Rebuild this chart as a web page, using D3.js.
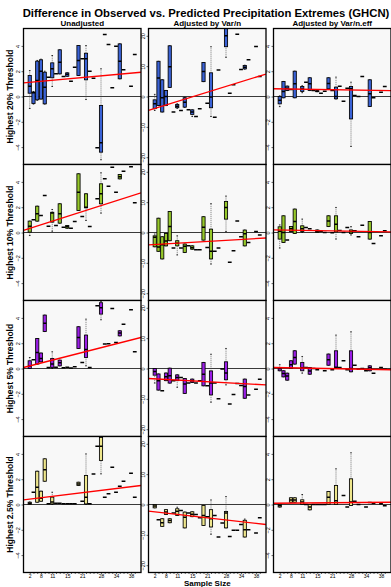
<!DOCTYPE html>
<html>
<head>
<meta charset="utf-8">
<script src="https://cdn.jsdelivr.net/npm/d3@7"></script>
<style>
body{margin:0;background:#fff;}
svg{display:block;font-family:"Liberation Sans",Arial,Helvetica,sans-serif;}
</style>
</head>
<body>
<svg id="chart" width="391" height="587"></svg>
<script>
// --------------------------------
// data
// --------------------------------

// categories: sample size of the station groups
var sampleSize = [2,4,6,8,9,10,11,12,13,14,15,16,18,20,21,22,24,25,26,28,30,31,32,34,35,36,37,38,40];
// only these are printed on the x axis (R drops overlapping labels)
var xLabels = [2,8,11,15,21,28,34,38];

var colNames = ["Unadjusted","Adjusted by Var/n","Adjusted by Var/n.eff"];
var rowNames = ["Highest 20% Threshold","Highest 10% Threshold","Highest 5% Threshold","Highest 2.5% Threshold"];
var rowColors = ["#3a62d6","#96c82a","#9a1ee6","#eee68c"];

var yTicksRaw = [-4,-2,0,2,4];
var yTicksVar = [-20,-10,0,10,20];

// one entry per sample size: [min, q1, median, q3, max], a single value, or null
var unadj20 = [[-0.95,0.26,0.82,1.66,2.05],[-0.6,-0.55,0.3,0.35,0.4],[-0.3,-0.26,1.26,2.79,2.85],[-0.2,-0.2,2.0,2.9,2.95],
  [-0.6,-0.58,0.74,1.92,2.0],1.53,[0.79,1.48,2.19,2.66,3.24],1.79,[1.79,1.79,2.71,3.69,3.69],1.58,[1.6,1.6,1.75,1.87,1.87],
  1.21,2.32,[1.66,1.66,2.85,4.03,4.03],2.98,[-0.24,1.32,2.98,3.42,4.03],2.0,1.45,-4.06,[-5.0,-4.4,-3.66,-0.71,2.19],
  4.9,4.11,0.69,3.98,[1.4,1.4,2.79,4.16,4.16],2.11,null,0.82,3.32];
var varn20 = [[-4.6,-4.0,-2.4,-1.1,0.7],[-3,-2.95,6.1,11.6,11.6],[-5.1,-5.1,-0.4,5.5,5.5],[-3,-2.95,0,2,2],
  [3,3,9.8,16.7,16.7],-5.1,[-3.9,-3.7,-3.2,-2.6,-2.4],-4.6,[-3.6,-3.5,-1.9,-0.4,-0.3],-4.4,[-6.6,-5.9,-5.1,-4.4,-4.4],
  -6.6,-4.0,[4.9,4.9,8.2,11.2,11.2],-2.2,[-6.6,-3.7,-0.2,7.8,16.4],-6.8,8.7,null,[12.9,16.4,20,23,26],
  1.1,3.9,20.5,8.9,[9.0,9.1,9.6,10.2,10.3],12.1,null,16.5,6.6];
var neff20 = [[-0.8,-0.58,-0.3,0,0.05],[-0.1,-0.1,0.4,1.19,1.19],[0.47,0.47,0.65,0.82,0.82],0.55,
  [-0.1,-0.1,1.0,2.0,2.0],null,[0.3,0.4,0.6,0.79,0.85],1.13,[0.47,0.47,1.0,1.48,1.48],0.47,[0.38,0.38,0.42,0.46,0.46],
  0.26,0.42,[0.61,0.61,1.03,1.48,1.48],0.47,[-0.2,-0.18,0,0.74,1.53],0.82,-0.37,0.66,[-3.95,-1.77,0.61,0.79,1.13],
  0.08,0.0,1.58,null,[-0.79,-0.79,0.21,1.32,1.32],-0.1,null,0.34,0.79];

var unadj10 = [[-0.24,0.03,0.5,0.9,0.9],1.0,[0.9,0.9,1.48,2.08,2.08],1.34,
  2.92,0.5,[0.1,0.82,1.55,1.6,1.82],0.55,[0.74,0.74,1.48,2.27,2.27],0.42,[0.34,0.34,0.45,0.55,0.55],
  0.34,0.87,[1.74,1.74,3.19,4.64,4.64],1.26,[0.95,1.95,2.0,3.06,3.06],0.47,null,2.66,[1.53,2.27,3.06,3.85,4.72],
  4.24,3.66,5.16,3.19,[4.24,4.24,4.4,4.58,4.58],4.85,null,5.2,2.35];
var varn10 = [[-4.7,-4.7,-1.6,-1.1,-0.5],[-6.2,-6.2,-4.8,4.7,4.7],[-8.7,-8.7,-4,-1.4,-1.4],[-4.4,-4.4,-2.8,-0.3,-0.3],
  [-2.7,-2.7,2.0,6.9,6.9],-5.1,[-7.4,-4.4,-3.5,-2.7,-1.1],-5.1,[-6.6,-6.6,-4.5,-3.8,-3.8],-4.4,[-5.5,-5.5,-5,-4.4,-4.4],
  -5.7,-5.7,[-2.5,-2.5,1.7,5.2,5.2],-4.9,[-10.4,-8.7,-6.2,1.1,9.5],-6.2,-5.1,null,[0.3,4.4,8.2,10.2,12.0],
  -9.8,-6.0,3.8,-1.4,[-4.4,-4.4,-0.4,0.8,0.8],-3.3,null,0.3,-0.8];
var neff10 = [[-1.23,-0.52,0.1,0.45,0.6],[-0.79,-0.79,0,1.32,1.32],-0.6,[0.08,0.08,0.3,0.47,0.47],
  [-0.08,-0.08,0.87,1.85,1.85],null,[0.0,0.08,0.3,0.53,1.06],0.4,0.3,null,[0.0,0.0,0.1,0.2,0.2],
  0.1,0.0,[0.47,0.47,0.9,1.32,1.32],-0.02,[-0.52,0.05,0.65,1.32,1.98],0.15,0.0,0.4,[-0.2,-0.08,0.05,0.2,0.47],
  0.13,-0.34,0.58,null,[-0.52,-0.52,0,0.87,0.87],-0.87,null,-0.26,0.13];

var unadj5 = [[0,0,0.2,0.61,0.87],0.69,[0.35,0.35,1.26,2.37,2.37],[0.53,0.53,0.8,1.22,1.22],
  [2.92,2.92,3.58,4.22,4.22],0.08,[0.0,0.08,0.35,0.79,1.32],0.1,[0.21,0.21,0.45,0.66,0.66],0.05,0.1,
  0.03,0.13,[1.58,1.58,2.45,3.3,3.3],0.47,[0.21,0.87,1.5,2.64,3.9],0.08,null,4.96,[3.85,4.3,4.8,5.2,5.3],
  1.93,1.95,4.74,2.05,[2.58,2.58,2.8,2.98,2.98],3.5,null,4.64,1.32];
var varn5 = [[-4.8,-2.2,-1.0,0,0],[-7.1,-7.1,-4,-1.8,-1.8],-7.3,[-4.0,-4.0,-2.7,-1.5,-1.5],
  [-4.8,-4.8,-2.4,0.1,0.1],-4,[-6.2,-4,-3,-2.1,-2.1],-3,[-8.2,-8.2,-5.1,-3.3,-3.3],-4.8,[-4.6,-4.6,-4,-3.5,-3.5],
  -4.8,-4.0,[-5.7,-5.7,-1.9,2.0,2.0],-5.7,[-11.1,-8.7,-4.8,-0.8,4.7],-4.8,-10,-0.2,[-5.4,-3.7,-1.5,2.2,6.6],
  -11.7,-8.6,-4.9,-5.6,[-9.8,-9.8,-5.9,-3.5,-3.5],-8.7,null,-6.8,-3.5];
var neff5 = [[-0.18,-0.18,0,0.08,0.3],[-0.66,-0.66,-0.4,-0.18,-0.18],[-0.92,-0.92,-0.6,-0.37,-0.37],[0,0,0.3,0.61,0.61],
  [0.35,0.35,0.87,1.4,1.4],null,[-0.37,-0.18,0.05,0.47,0.95],0.08,[-0.45,-0.45,-0.2,0.08,0.08],0,-0.1,
  null,-0.18,[0.26,0.26,0.7,1.14,1.14],-0.1,[0.0,0.08,0.1,1.4,2.64],0.08,0.61,-0.1,[-0.26,-0.26,0,1.4,2.9],
  0.26,-0.05,0,-0.18,[-0.18,-0.18,0.05,0.21,0.21],-0.37,null,0.08,-0.05];

var unadj25 = [[0,0,0.1,0.18,0.2],0.97,[0.18,0.18,1.37,2.63,2.63],[0.26,0.26,0.5,1.05,1.05],
  [1.84,1.84,2.74,3.61,3.61],0.05,[0,0.05,0.2,0.58,0.97],0.1,0.1,0.05,0.05,
  0.05,0.05,[1.5,1.5,1.63,1.76,1.76],0.26,[0,0.05,0.58,2.29,4.0],0.05,2.42,4.6,[2.42,3.48,4.6,5.3,5.4],
  0.58,0.84,2.95,0.97,1.45,1.84,null,2.47,0.58];
var varn25 = [[-1.1,-1.1,-0.5,0,0],-5.0,[-7.2,-7.2,-6,-4.7,-4.7],[-3.3,-3.3,-2.5,-1.7,-1.7],
  [-6.0,-6.0,-5.3,-4.7,-4.7],-2.8,[-3.6,-3.6,-2.2,-1.4,-0.9],-2.0,[-7.7,-7.7,-4.2,-2.5,-2.5],-2.8,[-4.0,-4.0,-3.2,-2.4,-2.4],
  -3.3,-4.4,[-6.9,-6.9,-3.6,-0.3,-0.3],-4.0,[-9.8,-7.4,-4.7,-1.7,1.5],-3.6,-10.7,-6.1,[-7.7,-7.7,-2.8,-2.3,2.6],
  -10.5,-8.5,-8.5,-6.6,[-10.7,-10.7,-8.3,-5.2,-4.8],-8.3,null,-9.4,-4.4];
var neff25 = [[-0.2,-0.2,-0.1,0,0],null,null,[0.18,0.18,0.35,0.53,0.53],
  [0.18,0.18,0.35,0.53,0.53],null,[0,0,0.2,0.37,0.79],0,[-0.42,-0.42,-0.2,0,0],0,0,
  0,0,[0,0,0.58,1.03,1.03],null,[0,0,0.3,1.5,2.82],null,0.71,-0.2,[-0.08,-0.08,0.2,2.03,4.09],
  0.26,0,null,-0.2,0.16,0.1,null,0.05,-0.1];

// red fitted line: value at the left and right panel edge, per column
var trend20 = [[1.08,1.92],[-4.6,7.4],[0.61,0.47]];
var trend10 = [[0.16,3.14],[-4.1,-1.8],[0.21,0.05]];
var trend5  = [[0.08,2.45],[-3.3,-5.4],[0.08,-0.1]];
var trend25 = [[0.37,1.5],[-2.2,-6.6],[0.1,0.18]];

var panels = [
	[unadj20,varn20,neff20],
	[unadj10,varn10,neff10],
	[unadj5,varn5,neff5],
	[unadj25,varn25,neff25]
];
var trends = [trend20,trend10,trend5,trend25];

// --------------------------------
// layout
// --------------------------------

var colLeft = [23.5,148.5,273.5], panelW = 117.5;
var rowTop = [28.5,164.5,300.5,436.5], panelH = 136;
var boxW = 3.2;

var svg = d3.select("#chart");
var nCat = sampleSize.length;

svg.append("text")
	.attr("x",206).attr("y",16.5)
	.attr("style","font-size:11.3px;font-weight:bold;text-anchor:middle;fill:#000")
	.text("Difference in Observed vs. Predicted Precipitation Extremes (GHCN)");

colNames.forEach(function(s,c){
	svg.append("text")
		.attr("x",colLeft[c]+panelW/2).attr("y",25.5)
		.attr("style","font-size:8px;font-weight:bold;text-anchor:middle;fill:#000")
		.text(s);
});

rowNames.forEach(function(s,r){
	svg.append("text")
		.attr("transform","translate(13,"+(rowTop[r]+panelH/2)+") rotate(-90)")
		.attr("style","font-size:8.5px;font-weight:bold;text-anchor:middle;fill:#000")
		.text(s);
});

svg.append("text")
	.attr("x",colLeft[1]+panelW/2).attr("y",586)
	.attr("style","font-size:8px;font-weight:bold;text-anchor:middle;fill:#000")
	.text("Sample Size");

var defs = svg.append("defs");

// --------------------------------
// one box plot panel
// --------------------------------

function drawPanel(r,c){
	var data = panels[r][c];
	var color = rowColors[r];
	var lim = (c==1)?22.4:5.375;

	var x = d3.scaleLinear().domain([-1.66,nCat-1+1.66]).range([colLeft[c],colLeft[c]+panelW]);
	var y = d3.scaleLinear().domain([-lim,lim]).range([rowTop[r]+panelH,rowTop[r]]);

	var clipId = "clip"+r+"_"+c;
	defs.append("clipPath").attr("id",clipId)
		.append("rect")
		.attr("x",colLeft[c]).attr("y",rowTop[r])
		.attr("width",panelW).attr("height",panelH);

	svg.append("rect")
		.attr("x",colLeft[c]).attr("y",rowTop[r])
		.attr("width",panelW).attr("height",panelH)
		.attr("style","fill:#f8f8f8;stroke:none");

	var g = svg.append("g").attr("clip-path","url(#"+clipId+")");

	// zero line
	g.append("line")
		.attr("x1",colLeft[c]).attr("x2",colLeft[c]+panelW)
		.attr("y1",y(0)).attr("y2",y(0))
		.attr("style","stroke:#222;stroke-width:0.9");

	var items = [];
	data.forEach(function(d,i){
		if (d === null) return;
		var s = (typeof d == "number")?[d,d,d,d,d]:d;
		items.push({i:i,s:s,single:(typeof d == "number")});
	});

	var box = g.selectAll("g.box").data(items).enter().append("g").attr("class","box");

	// whiskers
	box.filter(function(d){return !d.single;}).each(function(d){
		var b = d3.select(this), cx = x(d.i);
		if (d.s[0] < d.s[1]){
			b.append("line").attr("x1",cx).attr("x2",cx).attr("y1",y(d.s[0])).attr("y2",y(d.s[1]))
				.attr("style","stroke:#444;stroke-width:0.6;stroke-dasharray:1.2,0.8");
		}
		if (d.s[4] > d.s[3]){
			b.append("line").attr("x1",cx).attr("x2",cx).attr("y1",y(d.s[3])).attr("y2",y(d.s[4]))
				.attr("style","stroke:#444;stroke-width:0.6;stroke-dasharray:1.2,0.8");
		}
		[d.s[0],d.s[4]].forEach(function(v){
			b.append("line").attr("x1",cx-boxW/4).attr("x2",cx+boxW/4).attr("y1",y(v)).attr("y2",y(v))
				.attr("style","stroke:#000;stroke-width:0.8");
		});
		b.append("rect")
			.attr("x",cx-boxW/2).attr("width",boxW)
			.attr("y",y(d.s[3])).attr("height",Math.max(0.5,y(d.s[1])-y(d.s[3])))
			.attr("style","fill:"+color+";stroke:#000;stroke-width:0.85");
	});

	// medians (single values are just a median bar)
	box.append("line")
		.attr("x1",function(d){return x(d.i)-boxW/2-(d.single?0.3:0);})
		.attr("x2",function(d){return x(d.i)+boxW/2+(d.single?0.3:0);})
		.attr("y1",function(d){return y(d.s[2]);})
		.attr("y2",function(d){return y(d.s[2]);})
		.attr("style","stroke:#000;stroke-width:1.5");

	// fitted line
	var t = trends[r][c];
	g.append("line")
		.attr("x1",colLeft[c]).attr("x2",colLeft[c]+panelW)
		.attr("y1",y(t[0])).attr("y2",y(t[1]))
		.attr("style","stroke:#ff0000;stroke-width:1.35");

	// y axis
	var ya = svg.append("g")
		.attr("transform","translate("+colLeft[c]+",0)")
		.call(d3.axisLeft(y).tickValues(c==1?yTicksVar:yTicksRaw).tickSize(2).tickSizeOuter(0));
	ya.select(".domain").remove();
	ya.selectAll(".tick line").attr("stroke","#000").attr("stroke-width",0.6);
	ya.selectAll(".tick text")
		.attr("transform","rotate(-90)")
		.attr("x",0).attr("y",-3.6).attr("dy",0)
		.attr("style","font-size:5.5px;text-anchor:middle;fill:#000;font-family:'Liberation Sans',Arial,sans-serif");

	// x axis on the bottom row only
	if (r == rowTop.length-1){
		var xa = svg.append("g")
			.attr("transform","translate(0,"+(rowTop[r]+panelH)+")")
			.call(d3.axisBottom(x).tickValues(d3.range(nCat)).tickSize(1.5).tickSizeOuter(0)
				.tickFormat(function(i){ return xLabels.indexOf(sampleSize[i])>=0?sampleSize[i]:""; }));
		xa.select(".domain").remove();
		xa.selectAll(".tick line").attr("stroke","#000").attr("stroke-width",0.6);
		xa.selectAll(".tick text")
			.attr("y",1.6).attr("dy","0.71em")
			.attr("style","font-size:5px;fill:#000;font-family:'Liberation Sans',Arial,sans-serif");
	}

	// frame
	svg.append("rect")
		.attr("x",colLeft[c]).attr("y",rowTop[r])
		.attr("width",panelW).attr("height",panelH)
		.attr("style","fill:none;stroke:#000;stroke-width:1.3");
}

for (var r=0; r<4; r++){
	for (var c=0; c<3; c++){
		drawPanel(r,c);
	}
}
</script>
</body>
</html>
